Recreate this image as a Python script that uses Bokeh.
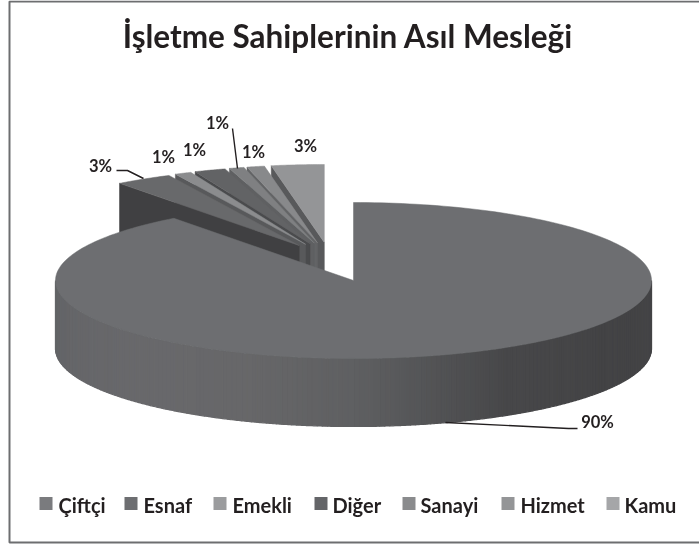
import numpy as np
from bokeh.plotting import figure
from bokeh.core.properties import value
from bokeh.embed import file_html
from bokeh.resources import INLINE

# --- data ---
title = "İşletme Sahiplerinin Asıl Mesleği"
categories = ["Çiftçi", "Esnaf", "Emekli", "Diğer", "Sanayi", "Hizmet", "Kamu"]
shares = [89.7, 3.1, 0.9, 1.7, 0.8, 0.95, 2.85]
labels = ["90%", "3%", "1%", "1%", "1%", "1%", "3%"]

# --- style / layout ---
top_colors = ["#6d6e71", "#68696b", "#8b8c8e", "#626365", "#7f8082", "#88898b", "#949597"]
wall_colors = ["#434345", "#404042", "#58595b", "#4a4b4d", "#5f6062", "#636466", "#58595b"]
legend_colors = ["#7a7b7e", "#6d6e71", "#9b9c9e", "#646568", "#8a8b8d", "#949597", "#a5a6a8"]
legend_sq_x = [45.5, 130.5, 219.5, 320.5, 408.5, 507.5, 612.5]
legend_tx_x = [58, 143, 232, 332, 420, 520, 624]
label_x = [597, 100, 163, 194, 217, 253, 305]
label_y = [421.5, 165.5, 156.5, 149.5, 122.5, 151.5, 145.5]
leader_x = [[445, 568, 577], [116, 127, 143], [], [], [232, 237], [], []]
leader_y = [[422, 428, 428], [170, 170, 178], [], [], [128, 168], [], []]
side_stop_theta = [90, 120, 150, 180, 200, 225, 270]
side_stop_rgb = [(0x45, 0x45, 0x47), (0x43, 0x43, 0x45), (0x48, 0x48, 0x4a), (0x5f, 0x60, 0x62),
                 (0x67, 0x67, 0x69), (0x69, 0x69, 0x6c), (0x63, 0x64, 0x67)]

RX, RY, DEPTH = 298.0, 78.0, 68.0
BIG_APEX = (353.0, 280.0)
GROUP = (329.0, 263.5)
EXPLODE = (58.0, 21.6)

FONT = value("Lato")
INK = "#231f20"

p = figure(width=699, height=546, x_range=(0, 699), y_range=(546, 0),
           toolbar_location=None, output_backend="svg", min_border=0,
           styles={"position": "fixed", "left": "0px", "top": "0px"})
p.axis.visible = False
p.grid.visible = False
p.outline_line_color = None
p.background_fill_color = "white"
p.border_fill_color = "white"

# frame
p.line([699, 9, 9, 699], [1, 1, 542, 542], line_color="#6d6e70", line_width=2)


def arc(apex, t0, t1, n=90, dy=0.0):
    t = np.radians(np.linspace(t0, t1, n))
    return apex[0] + RX * np.sin(t), apex[1] - RY * np.cos(t) + dy


edges = np.concatenate([[0.0], np.cumsum(shares)]) * 360.0 / sum(shares)

# small slices from the back (last) to the front (second)
for i in range(len(shares) - 1, 0, -1):
    t0, t1 = edges[i], edges[i + 1]
    mid = np.radians((t0 + t1) / 2)
    apex = (GROUP[0] + EXPLODE[0] * np.sin(mid), GROUP[1] - EXPLODE[1] * np.cos(mid))
    ox = apex[0] + RX * np.sin(np.radians(t0))
    oy = apex[1] - RY * np.cos(np.radians(t0))
    p.patch([ox, apex[0], apex[0], ox], [oy, apex[1], apex[1] + DEPTH, oy + DEPTH],
            fill_color=wall_colors[i], line_color=wall_colors[i], line_width=0.5)
    ax, ay = arc(apex, t0, t1, 24)
    p.patch(np.r_[apex[0], ax], np.r_[apex[1], ay],
            fill_color=top_colors[i], line_color=top_colors[i], line_width=0.5)

# main slice: front wall as narrow shaded strips, then its top
strip_edges = np.linspace(90, 270, 181)
xs, ys, cols = [], [], []
for a, b in zip(strip_edges[:-1], strip_edges[1:]):
    ax, ay = arc(BIG_APEX, a, b, 4)
    bx, by = arc(BIG_APEX, b, a, 4, DEPTH)
    xs.append(np.r_[ax, bx])
    ys.append(np.r_[ay, by])
    m = (a + b) / 2
    rgb = [int(np.interp(m, side_stop_theta, [c[k] for c in side_stop_rgb])) for k in range(3)]
    cols.append("#%02x%02x%02x" % tuple(rgb))
p.patches(xs, ys, fill_color=cols, line_color=cols, line_width=1.2)
ax, ay = arc(BIG_APEX, edges[0], edges[1], 240)
p.patch(np.r_[BIG_APEX[0], ax], np.r_[BIG_APEX[1], ay],
        fill_color=top_colors[0], line_color=top_colors[0], line_width=0.5)

# leader lines
for lx, ly in zip(leader_x, leader_y):
    if lx:
        p.line(lx, ly, line_color="#231f20", line_width=1.4)

# value labels
p.text(label_x, label_y, text=labels, text_font=FONT, text_font_size="16.5px",
       text_font_style="bold", text_color=INK, text_align="center", text_baseline="middle")

# title
p.text([347.5], [35], text=[title], text_font=FONT, text_font_size="31.5px",
       text_font_style="bold", text_color=INK, text_align="center", text_baseline="middle")

# legend
p.rect(legend_sq_x, [503] * len(categories), width=13, height=13,
       fill_color=legend_colors, line_color=None)
p.text(legend_tx_x, [504] * len(categories), text=categories, text_font=FONT,
       text_font_size="20px", text_font_style="bold", text_color=INK,
       text_align="left", text_baseline="alphabetic")

open("out.html", "w").write(file_html(p, INLINE))
